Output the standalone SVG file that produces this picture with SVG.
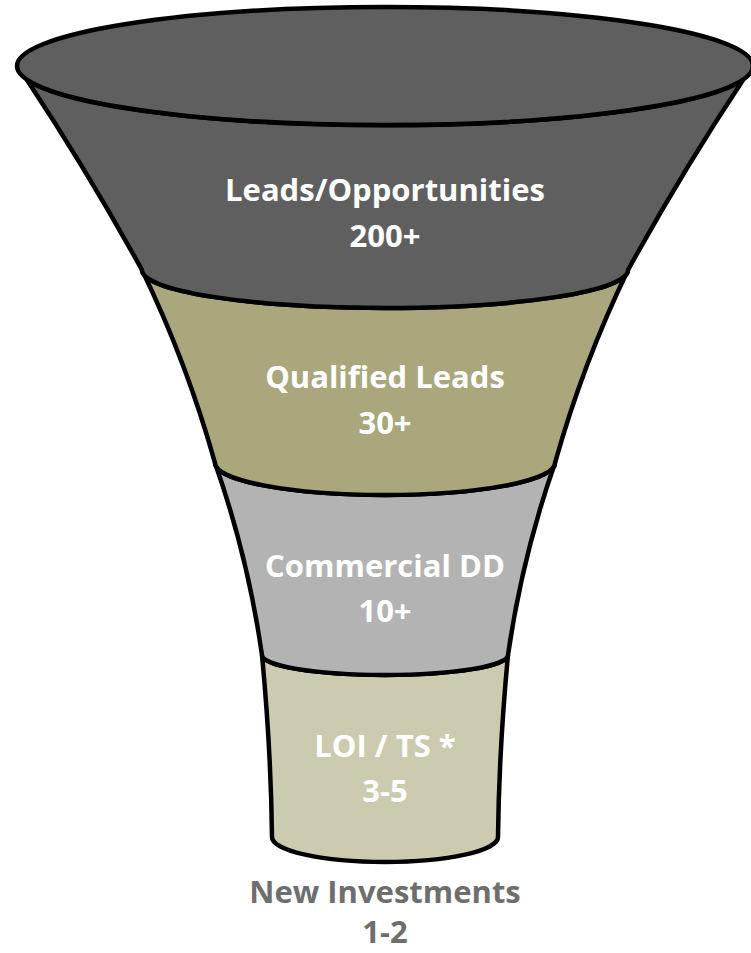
<svg xmlns="http://www.w3.org/2000/svg" width="751" height="953" viewBox="0 0 751 953">
  <style>
    .band { stroke: #000; stroke-width: 4.5; stroke-linejoin: round; }
    .lbl { font-family: "Open Sans", "Noto Sans", "DejaVu Sans", sans-serif; font-weight: bold; font-size: 31px; fill: #fff; text-anchor: middle; }
    .out { fill: #6e6e6e; }
  </style>
  <rect width="751" height="953" fill="#fff"/>
  <g id="funnel">
    <!-- bottom stage: LOI / TS -->
    <g id="stage-loi">
      <path class="band" fill="#cccbb0" d="M262,655 Q271,750 272,837 A113,25 0 0 0 498,837 Q499,750 508,655 A123,20 0 0 1 262,655 Z"/>
      <text class="lbl" x="385" y="757">LOI / TS *</text>
      <text class="lbl" x="385" y="802">3-5</text>
    </g>
    <!-- commercial due diligence -->
    <g id="stage-dd">
      <path class="band" fill="#b3b3b3" d="M215,463 Q248,557 262,655 A123,20 0 0 0 508,655 Q522,557 555,463 A170,32 0 0 1 215,463 Z"/>
      <text class="lbl" x="385" y="577">Commercial DD</text>
      <text class="lbl" x="385" y="622">10+</text>
    </g>
    <!-- qualified leads -->
    <g id="stage-qualified">
      <path class="band" fill="#a9a77b" d="M142,270 Q187,363 215,463 A170,32 0 0 0 555,463 Q583,363 628,270 A243,38 0 0 1 142,270 Z"/>
      <text class="lbl" x="385" y="388">Qualified Leads</text>
      <text class="lbl" x="385" y="434">30+</text>
    </g>
    <!-- top stage with funnel mouth -->
    <g id="stage-leads">
      <path class="band" fill="#5f5f5f" d="M27,80 Q88,172 142,270 A243,38 0 0 0 628,270 Q682,172 743,80 A368,59 0 0 1 27,80 Z"/>
      <ellipse class="band" fill="#5f5f5f" cx="385" cy="66" rx="368" ry="59"/>
      <text class="lbl" x="385" y="201">Leads/Opportunities</text>
      <text class="lbl" x="385" y="247">200+</text>
    </g>
  </g>
  <g id="result">
    <text class="lbl out" x="385" y="903">New Investments</text>
    <text class="lbl out" x="385" y="943">1-2</text>
  </g>
</svg>
